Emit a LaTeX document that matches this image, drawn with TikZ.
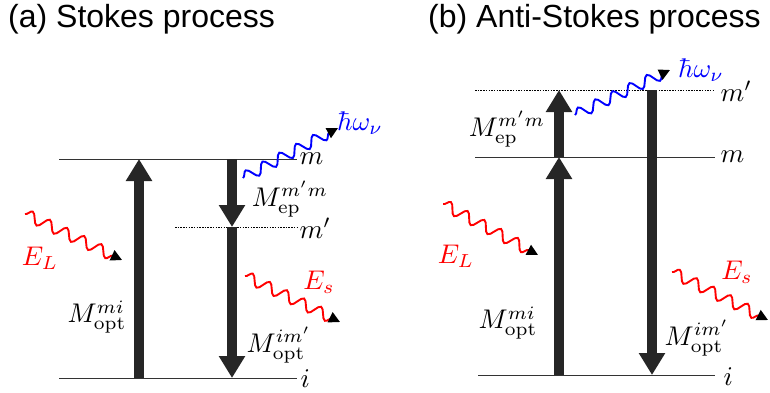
\documentclass[tikz,border=0pt]{standalone}
\usepackage{fontspec}
\newfontfamily\titlefont{Liberation Sans}
\usetikzlibrary{arrows.meta,decorations.pathmorphing}
\definecolor{arrowgray}{HTML}{262626}
\begin{document}
\begin{tikzpicture}[x=1pt,y=-1pt,
  level/.style={line width=0.9pt, draw=black!80},
  virtual/.style={line width=0.9pt, draw=black, dash pattern=on 1.5pt off 1.2pt},
  bigarrow/.style={line width=10pt, draw=arrowgray, -{Triangle[length=22pt,width=25pt]}},
  wave/.style={line width=1.9pt, decorate,
    decoration={snake, amplitude=5.5pt, segment length=19pt, post length=7pt},
    -{Triangle[length=11pt,width=11pt,color=black]}},
  lab/.style={scale=2.7, transform shape, inner sep=0pt},
  title/.style={font=\titlefont\fontsize{32}{38}\selectfont, inner sep=0pt, anchor=west},
]
\useasboundingbox (0,0) rectangle (770,392);

% ---------- titles
\node[title] (ta) at (8,19) {(a) Stokes process};
\node[title] (tb) at (428,19) {(b) Anti-Stokes process};

% ---------- panel (a)
\coordinate (am-l) at (59,159);   \coordinate (am-r) at (297,159);
\coordinate (amp-l) at (175,227); \coordinate (amp-r) at (297,227);
\coordinate (ai-l) at (59,378);   \coordinate (ai-r) at (297,378);
\draw[level] (am-l) -- (am-r);
\draw[virtual] (amp-l) -- (amp-r);
\draw[level] (ai-l) -- (ai-r);
\node[lab, anchor=west] (am-lab) at (299,159) {$m$};
\node[lab, anchor=west] (amp-lab) at (299,228) {$m'$};
\node[lab, anchor=west] (ai-lab) at (300,379) {$i$};

\coordinate (aup-b) at (139,378); \coordinate (aup-t) at (139,159);
\coordinate (adn-t) at (232,159); \coordinate (adn-m) at (232,227); \coordinate (adn-b) at (232,378);
\draw[bigarrow] (aup-b) -- (aup-t);
\draw[bigarrow] (adn-t) -- (adn-m);
\draw[bigarrow] (adn-m) -- (adn-b);

\node[lab] (aep) at (290,199) {$M_{\mathrm{ep}}^{m'm}$};
\node[lab] (aopt1) at (97,317) {$M_{\mathrm{opt}}^{mi}$};
\node[lab] (aopt2) at (279,345) {$M_{\mathrm{opt}}^{im'}$};

\coordinate (aEL-s) at (25,214);  \coordinate (aEL-e) at (122,260);
\coordinate (aEs-s) at (245,276); \coordinate (aEs-e) at (340,322);
\coordinate (aph-s) at (243,178); \coordinate (aph-e) at (338,128);
\draw[wave, red] (aEL-s) -- (aEL-e);
\draw[wave, red] (aEs-s) -- (aEs-e);
\draw[wave, blue] (aph-s) -- (aph-e);
\node[lab, red] (aEL) at (40,258) {$E_L$};
\node[lab, red] (aEs) at (319,282) {$E_s$};
\node[lab, blue] (aph) at (360,123) {$\hbar\omega_\nu$};

% ---------- panel (b)
\coordinate (bmp-l) at (475,90);  \coordinate (bmp-r) at (715,90);
\coordinate (bm-l) at (475,157);  \coordinate (bm-r) at (715,157);
\coordinate (bi-l) at (478,375);  \coordinate (bi-r) at (715,375);
\draw[virtual] (bmp-l) -- (bmp-r);
\draw[level] (bm-l) -- (bm-r);
\draw[level] (bi-l) -- (bi-r);
\node[lab, anchor=west] (bmp-lab) at (720,91) {$m'$};
\node[lab, anchor=west] (bm-lab) at (720,157) {$m$};
\node[lab, anchor=west] (bi-lab) at (723,377) {$i$};

\coordinate (bup-b) at (559,375); \coordinate (bup-m) at (559,157); \coordinate (bup-t) at (559,90);
\coordinate (bdn-t) at (652,90);  \coordinate (bdn-b) at (652,375);
\draw[bigarrow] (bup-b) -- (bup-m);
\draw[bigarrow] (bup-m) -- (bup-t);
\draw[bigarrow] (bdn-t) -- (bdn-b);

\node[lab] (bep) at (507,129) {$M_{\mathrm{ep}}^{m'm}$};
\node[lab] (bopt1) at (508,323) {$M_{\mathrm{opt}}^{mi}$};
\node[lab] (bopt2) at (697,338) {$M_{\mathrm{opt}}^{im'}$};

\coordinate (bEL-s) at (443,204); \coordinate (bEL-e) at (538,255);
\coordinate (bEs-s) at (672,272); \coordinate (bEs-e) at (768,320);
\coordinate (bph-s) at (575,115); \coordinate (bph-e) at (670,70);
\draw[wave, red] (bEL-s) -- (bEL-e);
\draw[wave, red] (bEs-s) -- (bEs-e);
\draw[wave, blue] (bph-s) -- (bph-e);
\node[lab, red] (bEL) at (456,256) {$E_L$};
\node[lab, red] (bEs) at (737,272) {$E_s$};
\node[lab, blue] (bph) at (701,70) {$\hbar\omega_\nu$};
\end{tikzpicture}
\end{document}
